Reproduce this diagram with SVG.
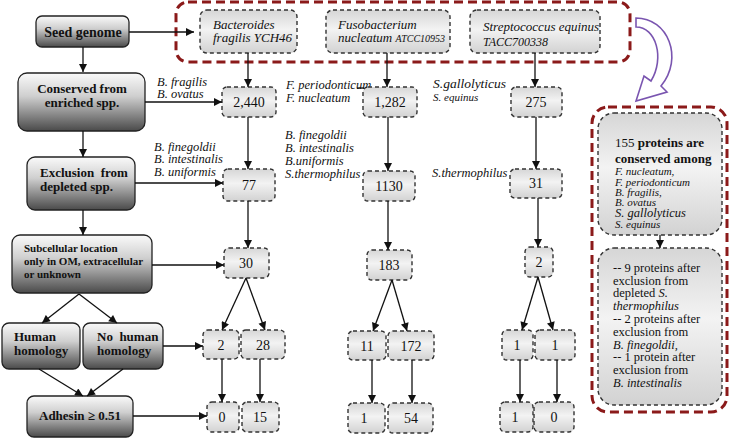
<svg xmlns="http://www.w3.org/2000/svg" width="731" height="439" viewBox="0 0 731 439">
<defs>
<linearGradient id="gDark" x1="0" y1="0" x2="0" y2="1">
<stop offset="0" stop-color="#fafafa"/><stop offset="0.4" stop-color="#cfcfcf"/><stop offset="1" stop-color="#4a4a4a"/>
</linearGradient>
<linearGradient id="gLight" x1="0" y1="0" x2="0" y2="1">
<stop offset="0" stop-color="#d6d6d6"/><stop offset="0.45" stop-color="#f3f3f3"/><stop offset="1" stop-color="#d2d2d2"/>
</linearGradient>
<marker id="ah" viewBox="0 0 10 10" refX="10" refY="5" markerWidth="9" markerHeight="8" markerUnits="userSpaceOnUse" orient="auto">
<path d="M0,0 L10,5 L0,10 z" fill="#111"/>
</marker>
</defs>
<style>
.dark{fill:url(#gDark);stroke:#222;stroke-width:1.3}
.num{fill:url(#gLight);stroke:#333;stroke-width:1.4;stroke-dasharray:4 3}
.red{fill:none;stroke:#8b1a1a;stroke-width:3;stroke-dasharray:9 5}
.b{font-family:"Liberation Serif",serif;font-weight:bold;font-size:13px;fill:#111}
.n{font-family:"Liberation Serif",serif;font-size:14px;fill:#111;text-anchor:middle}
.i{font-family:"Liberation Serif",serif;font-style:italic;font-size:12.5px;fill:#111}
.r{font-family:"Liberation Serif",serif;font-size:12.5px;fill:#111}
.c line{stroke:#111;stroke-width:1.3;marker-end:url(#ah)}
</style>
<rect width="731" height="439" fill="#fff"/>

<g id="seed"><rect class="dark" x="36" y="16" width="93" height="31" rx="6"/><text class="b" x="83" y="37" text-anchor="middle" style="font-size:14px">Seed genome</text></g>
<g id="conserved"><rect class="dark" x="18" y="73" width="127" height="58" rx="9"/><text class="b" x="82" y="93" text-anchor="middle">Conserved from</text><text class="b" x="82" y="107" text-anchor="middle">enriched spp.</text></g>
<g id="exclusion"><rect class="dark" x="27" y="157" width="108" height="53" rx="8"/><text class="b" x="40" y="177" xml:space="preserve">Exclusion  from</text><text class="b" x="40" y="191">depleted spp.</text></g>
<g id="subcellular"><rect class="dark" x="12" y="235" width="140" height="58" rx="8"/><text class="b" x="24" y="252" style="font-size:11px">Subcellular location</text><text class="b" x="24" y="265" style="font-size:11px">only in OM, extracellular</text><text class="b" x="24" y="278" style="font-size:11px">or unknown</text></g>
<g id="human"><rect class="dark" x="2" y="323" width="78" height="46" rx="7"/><text class="b" x="14" y="341">Human</text><text class="b" x="14" y="355">homology</text></g>
<g id="nohuman"><rect class="dark" x="83" y="323" width="80" height="46" rx="7"/><text class="b" x="97" y="341" xml:space="preserve">No  human</text><text class="b" x="97" y="355">homology</text></g>
<g id="adhesin"><rect class="dark" x="27" y="396" width="106" height="41" rx="7"/><text class="b" x="39" y="420">Adhesin ≥ 0.51</text></g>

<g id="seedgroup"><rect class="red" x="176" y="2" width="454" height="60" rx="12"/></g>
<g id="bacteroides"><rect class="num" x="200" y="10" width="97" height="43" rx="7"/><text class="i" x="213" y="29" style="font-size:13px">Bacteroides</text><text class="i" x="213" y="42" style="font-size:13px">fragilis YCH46</text></g>
<g id="fuso"><rect class="num" x="326" y="10" width="124" height="43" rx="7"/><text class="i" x="338" y="29" style="font-size:13px">Fusobacterium</text><text class="i" x="338" y="42" style="font-size:13px">nucleatum <tspan style="font-size:10px">ATCC10953</tspan></text></g>
<g id="strep"><rect class="num" x="470" y="10" width="130" height="43" rx="7"/><text class="i" x="483" y="31" style="font-size:13px">Streptococcus equinus</text><text class="i" x="483" y="46" style="font-size:12px">TACC700338</text></g>

<g id="lab1"><text class="i" x="157" y="86">B. fragilis</text><text class="i" x="157" y="98">B. ovatus</text></g>
<g id="lab2"><text class="i" x="286" y="89">F. periodonticum</text><text class="i" x="286" y="102">F. nucleatum</text></g>
<g id="lab3"><text class="i" x="433" y="88" style="font-size:13.5px">S.gallolyticus</text><text class="i" x="433" y="101" style="font-size:11px">S. equinus</text></g>
<g id="lab4"><text class="i" x="154" y="151">B. finegoldii</text><text class="i" x="154" y="163">B. intestinalis</text><text class="i" x="154" y="176">B. uniformis</text></g>
<g id="lab5"><text class="i" x="285" y="139">B. finegoldii</text><text class="i" x="285" y="152">B. intestinalis</text><text class="i" x="285" y="165">B.uniformis</text><text class="i" x="285" y="178">S.thermophilus</text></g>
<g id="lab6"><text class="i" x="432" y="177">S.thermophilus</text></g>

<g id="n2440"><rect class="num" x="222" y="87" width="54" height="30" rx="5"/><text class="n" x="249" y="107">2,440</text></g>
<g id="n1282"><rect class="num" x="363" y="87" width="54" height="30" rx="5"/><text class="n" x="390" y="107">1,282</text></g>
<g id="n275"><rect class="num" x="511" y="87" width="51" height="30" rx="5"/><text class="n" x="536" y="107">275</text></g>
<g id="n77"><rect class="num" x="223" y="169" width="52" height="32" rx="5"/><text class="n" x="249" y="190">77</text></g>
<g id="n1130"><rect class="num" x="363" y="171" width="52" height="30" rx="5"/><text class="n" x="389" y="191">1130</text></g>
<g id="n31"><rect class="num" x="510" y="169" width="52" height="29" rx="5"/><text class="n" x="536" y="188">31</text></g>
<g id="n30"><rect class="num" x="224" y="248" width="45" height="30" rx="5"/><text class="n" x="246" y="268">30</text></g>
<g id="n183"><rect class="num" x="367" y="250" width="45" height="30" rx="5"/><text class="n" x="389" y="270">183</text></g>
<g id="n2c"><rect class="num" x="525" y="247" width="28" height="30" rx="5"/><text class="n" x="539" y="267">2</text></g>
<g id="n2"><rect class="num" x="203" y="330" width="36" height="29" rx="5"/><text class="n" x="221" y="350">2</text></g>
<g id="n28"><rect class="num" x="241" y="330" width="44" height="29" rx="5"/><text class="n" x="263" y="350">28</text></g>
<g id="n11"><rect class="num" x="348" y="331" width="38" height="29" rx="5"/><text class="n" x="367" y="351">11</text></g>
<g id="n172"><rect class="num" x="388" y="331" width="46" height="29" rx="5"/><text class="n" x="411" y="351">172</text></g>
<g id="n1a"><rect class="num" x="502" y="330" width="31" height="30" rx="5"/><text class="n" x="517" y="350">1</text></g>
<g id="n1b"><rect class="num" x="535" y="330" width="40" height="30" rx="5"/><text class="n" x="555" y="350">1</text></g>
<g id="n0"><rect class="num" x="207" y="402" width="32" height="30" rx="5"/><text class="n" x="222" y="422">0</text></g>
<g id="n15"><rect class="num" x="242" y="402" width="37" height="30" rx="5"/><text class="n" x="260" y="422">15</text></g>
<g id="n1c"><rect class="num" x="348" y="403" width="37" height="30" rx="5"/><text class="n" x="364" y="423">1</text></g>
<g id="n54"><rect class="num" x="388" y="403" width="45" height="30" rx="5"/><text class="n" x="411" y="423">54</text></g>
<g id="n1d"><rect class="num" x="500" y="402" width="33" height="30" rx="5"/><text class="n" x="515" y="422">1</text></g>
<g id="n0b"><rect class="num" x="534" y="402" width="40" height="30" rx="5"/><text class="n" x="554" y="422">0</text></g>

<g id="summary">
<rect class="red" x="592" y="107" width="135" height="305" rx="16"/>
<rect class="num" x="598" y="113" width="124" height="122" rx="16"/>
<text class="r" x="615" y="147" style="font-size:13px">155 <tspan style="font-weight:bold">proteins are</tspan></text>
<text class="b" x="615" y="163">conserved among</text>
<text class="i" x="615" y="175" style="font-size:11px">F. nucleatum,</text>
<text class="i" x="615" y="185.5" style="font-size:11px">F. periodonticum</text>
<text class="i" x="615" y="196" style="font-size:11px">B. fragilis,</text>
<text class="i" x="615" y="206" style="font-size:11px">B. ovatus</text>
<text class="i" x="615" y="217" style="font-size:12.5px">S. gallolyticus</text>
<text class="i" x="615" y="228" style="font-size:11px">S. equinus</text>
</g>
<g id="summary2">
<rect class="num" x="598" y="248" width="124" height="157" rx="16"/>
<text class="r" x="613" y="272">-- 9 proteins after</text>
<text class="r" x="613" y="285">exclusion from</text>
<text class="r" x="613" y="297">depleted <tspan style="font-style:italic">S.</tspan></text>
<text class="i" x="613" y="310">thermophilus</text>
<text class="r" x="613" y="323">-- 2 proteins after</text>
<text class="r" x="613" y="336">exclusion from</text>
<text class="i" x="613" y="349">B. finegoldii,</text>
<text class="r" x="613" y="361">-- 1 protein after</text>
<text class="r" x="613" y="374">exclusion from</text>
<text class="i" x="613" y="387">B. intestinalis</text>
</g>

<g id="connectors" class="c">
<line x1="129" y1="32" x2="194" y2="32"/>
<line x1="83" y1="47" x2="83" y2="72"/>
<line x1="145" y1="102" x2="222" y2="102"/>
<line x1="83" y1="131" x2="83" y2="157"/>
<line x1="135" y1="183" x2="223" y2="183"/>
<line x1="83" y1="210" x2="83" y2="235"/>
<line x1="152" y1="265" x2="224" y2="265"/>
<line x1="79" y1="294" x2="42" y2="323"/>
<line x1="79" y1="294" x2="117" y2="323"/>
<line x1="163" y1="346" x2="203" y2="346"/>
<line x1="39" y1="369" x2="83" y2="396"/>
<line x1="123" y1="369" x2="87" y2="396"/>
<line x1="133" y1="416" x2="207" y2="416"/>
<line x1="248" y1="53" x2="248" y2="87"/>
<line x1="387" y1="53" x2="387" y2="87"/>
<line x1="535" y1="53" x2="535" y2="87"/>
<line x1="248" y1="117" x2="248" y2="169"/>
<line x1="388" y1="117" x2="388" y2="171"/>
<line x1="536" y1="117" x2="536" y2="169"/>
<line x1="248" y1="201" x2="248" y2="248"/>
<line x1="388" y1="201" x2="388" y2="250"/>
<line x1="538" y1="198" x2="538" y2="247"/>
<line x1="246" y1="278" x2="222" y2="330"/>
<line x1="246" y1="278" x2="265" y2="330"/>
<line x1="392" y1="280" x2="373" y2="331"/>
<line x1="392" y1="280" x2="407" y2="331"/>
<line x1="538" y1="277" x2="522" y2="330"/>
<line x1="538" y1="277" x2="553" y2="330"/>
<line x1="222" y1="359" x2="222" y2="402"/>
<line x1="260" y1="359" x2="260" y2="402"/>
<line x1="372" y1="360" x2="372" y2="403"/>
<line x1="412" y1="360" x2="412" y2="403"/>
<line x1="520" y1="360" x2="520" y2="402"/>
<line x1="557" y1="360" x2="557" y2="402"/>
<line x1="660" y1="235" x2="660" y2="248"/>
<line x1="357" y1="88" x2="364" y2="88" style="marker-end:none"/>
<path d="M636,18 C668,18 684,58 661,86 L667,92 L636,101 L644,76 L651,81 C665,58 656,27 636,27 Z" fill="#fff" stroke="#7a55b0" stroke-width="1.6"/>
</g>
</svg>
